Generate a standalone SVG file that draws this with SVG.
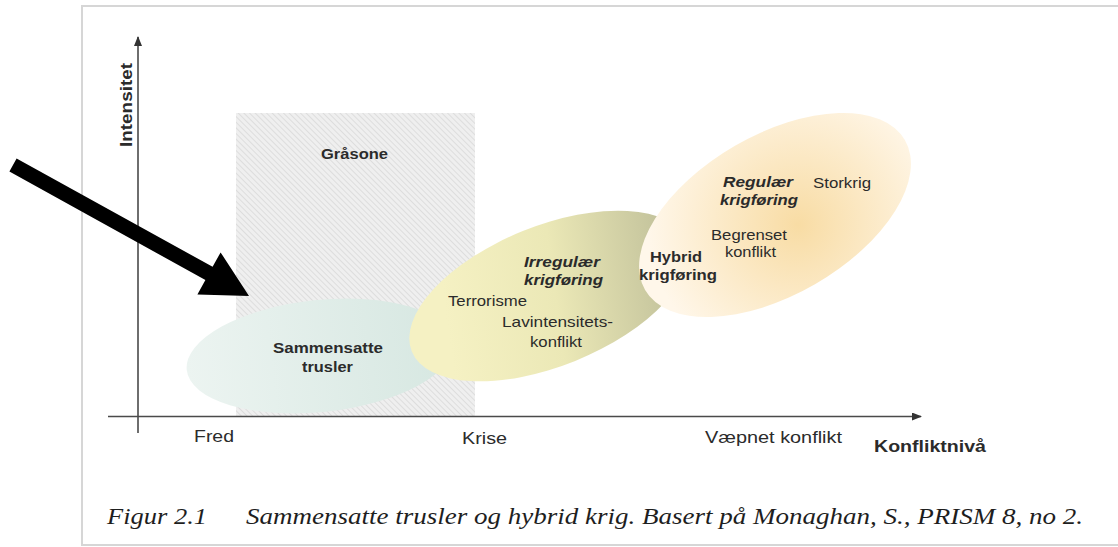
<svg xmlns="http://www.w3.org/2000/svg" width="1118" height="547" viewBox="0 0 1118 547">
<style>
.t{font-family:"Liberation Sans",Arial,sans-serif;font-size:15px;fill:#2b2b2b}
.b{font-weight:bold}
.bi{font-weight:bold;font-style:italic}
.ax{font-size:17px}
.cap{font-family:"Liberation Serif","Times New Roman",serif;font-style:italic;font-size:24px;fill:#1e1e1e}
.axis{stroke:#4a4a4a;stroke-width:1.6;fill:none}
</style>
<defs>
<pattern id="hatch" width="4" height="4" patternUnits="userSpaceOnUse" patternTransform="rotate(-45)">
<rect width="4" height="4" fill="#efefef"/>
<line x1="0" y1="0" x2="0" y2="4" stroke="#d9d9d9" stroke-width="1.6"/>
</pattern>
<linearGradient id="gTeal" x1="0" y1="0" x2="1" y2="0">
<stop offset="0" stop-color="#ecf4f1"/>
<stop offset="1" stop-color="#d6e7e1"/>
</linearGradient>
<linearGradient id="gYel" gradientUnits="userSpaceOnUse" x1="450" y1="260" x2="690" y2="320">
<stop offset="0" stop-color="#f5f1c3"/>
<stop offset="0.45" stop-color="#ebe8b6"/>
<stop offset="1" stop-color="#bcbc97"/>
</linearGradient>
<radialGradient id="gOr" gradientUnits="userSpaceOnUse" cx="790" cy="235" r="150">
<stop offset="0" stop-color="#f8dca4"/>
<stop offset="1" stop-color="#fff7ea"/>
</radialGradient>
<marker id="ah" markerWidth="10" markerHeight="8" refX="9" refY="4" orient="auto" markerUnits="userSpaceOnUse">
<path d="M0,0 L10,4 L0,8 Z" fill="#333"/>
</marker>
</defs>
<rect width="1118" height="547" fill="#ffffff"/>
<g id="frame" stroke="#d6d6d6" stroke-width="2" fill="none">
<path d="M1118,6 H82 V545 H1118"/>
</g>
<g id="grasone">
<rect x="236" y="113" width="239" height="303" fill="url(#hatch)"/>
<text class="t b" x="321" y="159" textLength="67" lengthAdjust="spacingAndGlyphs">Gråsone</text>
</g>
<g id="sammensatte">
<ellipse cx="320" cy="356" rx="134" ry="56" transform="rotate(-6 320 356)" fill="url(#gTeal)"/>
<text class="t b" x="273" y="353" textLength="110" lengthAdjust="spacingAndGlyphs">Sammensatte</text>
<text class="t b" x="302" y="372" textLength="51" lengthAdjust="spacingAndGlyphs">trusler</text>
</g>
<g id="irregular">
<ellipse cx="549" cy="296" rx="148" ry="70" transform="rotate(-22 549 296)" fill="url(#gYel)"/>
<text class="t bi" x="524" y="267" textLength="76" lengthAdjust="spacingAndGlyphs">Irregulær</text>
<text class="t bi" x="524" y="285" textLength="79" lengthAdjust="spacingAndGlyphs">krigføring</text>
<text class="t" x="448" y="306" textLength="79" lengthAdjust="spacingAndGlyphs">Terrorisme</text>
<text class="t" x="502" y="327" textLength="111" lengthAdjust="spacingAndGlyphs">Lavintensitets-</text>
<text class="t" x="530" y="347" textLength="52" lengthAdjust="spacingAndGlyphs">konflikt</text>
</g>
<g id="regular">
<ellipse cx="775" cy="215" rx="150" ry="80" transform="rotate(-30 775 215)" fill="url(#gOr)"/>
<text class="t bi" x="723" y="187" textLength="70" lengthAdjust="spacingAndGlyphs">Regulær</text>
<text class="t bi" x="720" y="205" textLength="78" lengthAdjust="spacingAndGlyphs">krigføring</text>
<text class="t" x="813" y="188" textLength="58" lengthAdjust="spacingAndGlyphs">Storkrig</text>
<text class="t" x="711" y="240" textLength="76" lengthAdjust="spacingAndGlyphs">Begrenset</text>
<text class="t" x="725" y="257" textLength="51" lengthAdjust="spacingAndGlyphs">konflikt</text>
</g>
<g id="hybrid">
<text class="t b" x="650" y="262" textLength="52" lengthAdjust="spacingAndGlyphs">Hybrid</text>
<text class="t b" x="639" y="280" textLength="78" lengthAdjust="spacingAndGlyphs">krigføring</text>
</g>
<g id="connectors">
<line class="axis" x1="138" y1="433" x2="138" y2="37" marker-end="url(#ah)"/>
<line class="axis" x1="108" y1="416.5" x2="921" y2="416.5" marker-end="url(#ah)"/>
<polygon points="16.6,158.4 212.6,266.8 220.6,252.4 249,296 197.4,294.4 205.4,280 9.4,171.6" fill="#000"/>
</g>
<g id="labels">
<text class="t b" x="0" y="0" font-size="16" textLength="84" lengthAdjust="spacingAndGlyphs" transform="translate(132 147) rotate(-90)" style="font-size:16px">Intensitet</text>
<text class="t ax" x="194" y="442" textLength="40" lengthAdjust="spacingAndGlyphs">Fred</text>
<text class="t ax" x="462" y="444" textLength="45" lengthAdjust="spacingAndGlyphs">Krise</text>
<text class="t ax" x="705" y="443" textLength="137" lengthAdjust="spacingAndGlyphs">Væpnet konflikt</text>
<text class="t ax b" x="874" y="452" textLength="112" lengthAdjust="spacingAndGlyphs">Konfliktnivå</text>
</g>
<g id="caption">
<text class="cap" x="107" y="524" textLength="100" lengthAdjust="spacingAndGlyphs">Figur 2.1</text>
<text class="cap" x="246" y="524" textLength="837" lengthAdjust="spacingAndGlyphs">Sammensatte trusler og hybrid krig. Basert på Monaghan, S., PRISM 8, no 2.</text>
</g>
</svg>
